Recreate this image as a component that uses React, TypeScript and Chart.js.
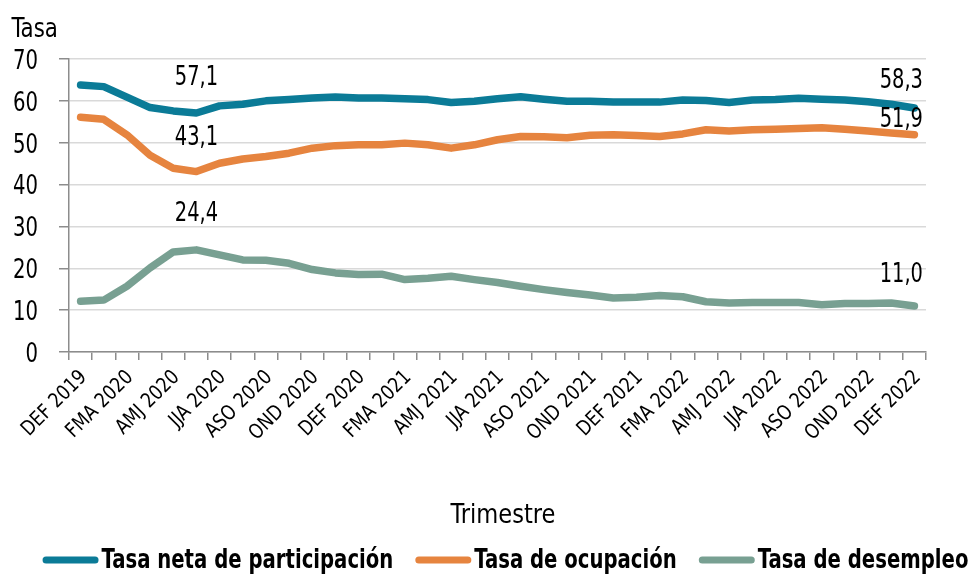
import React, { useEffect, useRef } from 'react';
import { Chart, registerables } from 'chart.js';

Chart.register(...registerables);

const categories = [
  'DEF 2019',
  'EFM 2020', 'FMA 2020', 'MAM 2020', 'AMJ 2020', 'MJJ 2020', 'JJA 2020', 'JAS 2020', 'ASO 2020', 'SON 2020', 'OND 2020', 'NDE 2020', 'DEF 2020',
  'EFM 2021', 'FMA 2021', 'MAM 2021', 'AMJ 2021', 'MJJ 2021', 'JJA 2021', 'JAS 2021', 'ASO 2021', 'SON 2021', 'OND 2021', 'NDE 2021', 'DEF 2021',
  'EFM 2022', 'FMA 2022', 'MAM 2022', 'AMJ 2022', 'MJJ 2022', 'JJA 2022', 'JAS 2022', 'ASO 2022', 'SON 2022', 'OND 2022', 'NDE 2022', 'DEF 2022',
];

const participacion = [63.8, 63.4, 60.9, 58.4, 57.6, 57.1, 58.8, 59.2, 60.0, 60.3, 60.7, 60.9, 60.7, 60.7, 60.5, 60.3, 59.6, 59.9, 60.5, 61.0, 60.4, 59.9, 59.9, 59.7, 59.7, 59.7, 60.2, 60.1, 59.6, 60.2, 60.3, 60.6, 60.4, 60.2, 59.8, 59.2, 58.3];
const ocupacion = [56.1, 55.6, 51.9, 47.0, 43.9, 43.1, 45.1, 46.1, 46.7, 47.5, 48.7, 49.3, 49.5, 49.5, 49.9, 49.5, 48.7, 49.5, 50.7, 51.5, 51.4, 51.2, 51.8, 51.9, 51.7, 51.5, 52.1, 53.1, 52.8, 53.1, 53.2, 53.4, 53.6, 53.2, 52.8, 52.3, 51.9];
const desempleo = [12.1, 12.4, 15.7, 20.1, 23.9, 24.4, 23.2, 22.0, 21.9, 21.2, 19.7, 18.9, 18.5, 18.6, 17.3, 17.6, 18.1, 17.3, 16.6, 15.7, 14.9, 14.2, 13.6, 12.9, 13.1, 13.5, 13.2, 12.0, 11.7, 11.8, 11.8, 11.8, 11.3, 11.6, 11.6, 11.7, 11.0];

const seriesNames = ['Tasa neta de participación', 'Tasa de ocupación', 'Tasa de desempleo'];
const seriesColors = ['#0B7B97', '#E6843F', '#78A092'];

const yTicks = [0, 10, 20, 30, 40, 50, 60, 70];
const yAxisTitle = 'Tasa';
const xAxisTitle = 'Trimestre';

// which points get value labels, and where the label centre sits relative to the point
const labelledPoints = [
  { ds: 0, idx: 5, dx: 0, dy: -38, align: 'center' },
  { ds: 1, idx: 5, dx: 0, dy: -36, align: 'center' },
  { ds: 2, idx: 5, dx: 0, dy: -39, align: 'center' },
  { ds: 0, idx: 36, dx: 8.5, dy: -30, align: 'right' },
  { ds: 1, idx: 36, dx: 8.5, dy: -18, align: 'right' },
  { ds: 2, idx: 36, dx: 8.5, dy: -34, align: 'right' },
];

const FONT = "'DejaVu Sans Condensed', 'DejaVu Sans', sans-serif";
const CAP = 0.729;

function drawText(
  ctx: CanvasRenderingContext2D,
  text: string,
  x: number,
  y: number,
  align: CanvasTextAlign,
  sx: number,
  rot = 0,
) {
  ctx.save();
  ctx.translate(x, y);
  if (rot) ctx.rotate(rot);
  ctx.scale(sx, 1);
  ctx.textAlign = align;
  ctx.textBaseline = 'alphabetic';
  ctx.fillText(text, 0, 0);
  ctx.restore();
}

const overlayPlugin = {
  id: 'overlay',
  afterDraw(chart: any) {
    const ctx = chart.ctx as CanvasRenderingContext2D;
    const xs = chart.scales.x;
    const ys = chart.scales.y;
    ctx.save();
    ctx.fillStyle = '#000';

    // y tick labels
    ctx.font = `27px ${FONT}`;
    yTicks.forEach((v) => {
      const py = ys.getPixelForValue(v);
      drawText(ctx, String(v), 38, py + (27 * CAP) / 2, 'right', 0.81);
    });

    // x tick labels (every other category)
    ctx.font = `20.5px ${FONT}`;
    categories.forEach((c, i) => {
      if (i % 2 !== 0) return;
      const px = xs.getPixelForValue(i);
      drawText(ctx, c, px + 7, 378, 'right', 0.93, -Math.PI / 4);
    });

    // axis titles
    ctx.font = `27px ${FONT}`;
    drawText(ctx, yAxisTitle, 11.5, 37, 'left', 0.88);
    drawText(ctx, xAxisTitle, 503, 523, 'center', 0.93);

    // value labels
    labelledPoints.forEach((lp) => {
      const meta = chart.getDatasetMeta(lp.ds);
      const pt = meta.data[lp.idx];
      const v = chart.data.datasets[lp.ds].data[lp.idx] as number;
      const txt = v.toFixed(1).replace('.', ',');
      drawText(ctx, txt, pt.x + lp.dx, pt.y + lp.dy + (27 * CAP) / 2, lp.align as CanvasTextAlign, 0.8);
    });

    // legend
    ctx.font = `bold 27px ${FONT}`;
    const sx = 0.81;
    const lineW = 56;
    const gapLT = 3;
    const gapItems = 22;
    const widths = chart.data.datasets.map((d: any) => ctx.measureText(d.label).width * sx);
    const total = widths.reduce((a: number, w: number) => a + lineW + gapLT + w, 0) + gapItems * (widths.length - 1);
    let x = 505.5 - total / 2;
    const yLine = 560;
    chart.data.datasets.forEach((d: any, i: number) => {
      ctx.strokeStyle = d.borderColor;
      ctx.lineWidth = 7;
      ctx.lineCap = 'round';
      ctx.beginPath();
      ctx.moveTo(x + 3.5, yLine);
      ctx.lineTo(x + lineW - 3.5, yLine);
      ctx.stroke();
      x += lineW + gapLT;
      drawText(ctx, d.label, x, 568, 'left', sx);
      x += widths[i] + gapItems;
    });
    ctx.restore();
  },
};

export default function App() {
  const ref = useRef<HTMLCanvasElement | null>(null);

  useEffect(() => {
    if (!ref.current) return;
    const values = [participacion, ocupacion, desempleo];
    const chart = new Chart(ref.current, {
      type: 'line',
      data: {
        labels: categories,
        datasets: values.map((v, i) => ({
          label: seriesNames[i],
          data: v,
          borderColor: seriesColors[i],
          backgroundColor: seriesColors[i],
          borderWidth: 7.5,
          borderCapStyle: 'round',
          borderJoinStyle: 'round',
          pointRadius: 0,
          pointHoverRadius: 0,
          tension: 0,
          fill: false,
        })),
      },
      options: {
        animation: false,
        responsive: false,
        devicePixelRatio: 1,
        layout: { padding: { top: 59, right: 47, left: 0, bottom: 0 } },
        plugins: {
          legend: { display: false },
          tooltip: { enabled: false },
          title: { display: false },
        },
        scales: {
          x: {
            type: 'category',
            offset: true,
            grid: {
              display: true,
              drawOnChartArea: false,
              drawTicks: true,
              tickLength: 8,
              color: '#8C8C8C',
              lineWidth: 1.5,
              offset: true,
            },
            border: { display: true, color: '#8C8C8C', width: 1.5 },
            ticks: { display: false, autoSkip: false },
            afterFit: (s: any) => { s.height = 223; },
          },
          y: {
            min: 0,
            max: 70,
            afterBuildTicks: (s: any) => { s.ticks = yTicks.map((v) => ({ value: v })); },
            grid: {
              color: '#D9D9D9',
              lineWidth: 1.5,
              drawTicks: true,
              tickLength: 10,
              tickColor: '#8C8C8C',
            },
            border: { display: true, color: '#8C8C8C', width: 1.5 },
            ticks: { display: false },
            afterFit: (s: any) => { s.width = 69; },
          },
        },
      },
      plugins: [overlayPlugin],
    });
    return () => chart.destroy();
  }, []);

  return (
    <div style={{ position: 'fixed', left: 0, top: 0, width: 973, height: 575, background: '#fff' }}>
      <canvas ref={ref} width={973} height={575} style={{ width: 973, height: 575 }} />
    </div>
  );
}
